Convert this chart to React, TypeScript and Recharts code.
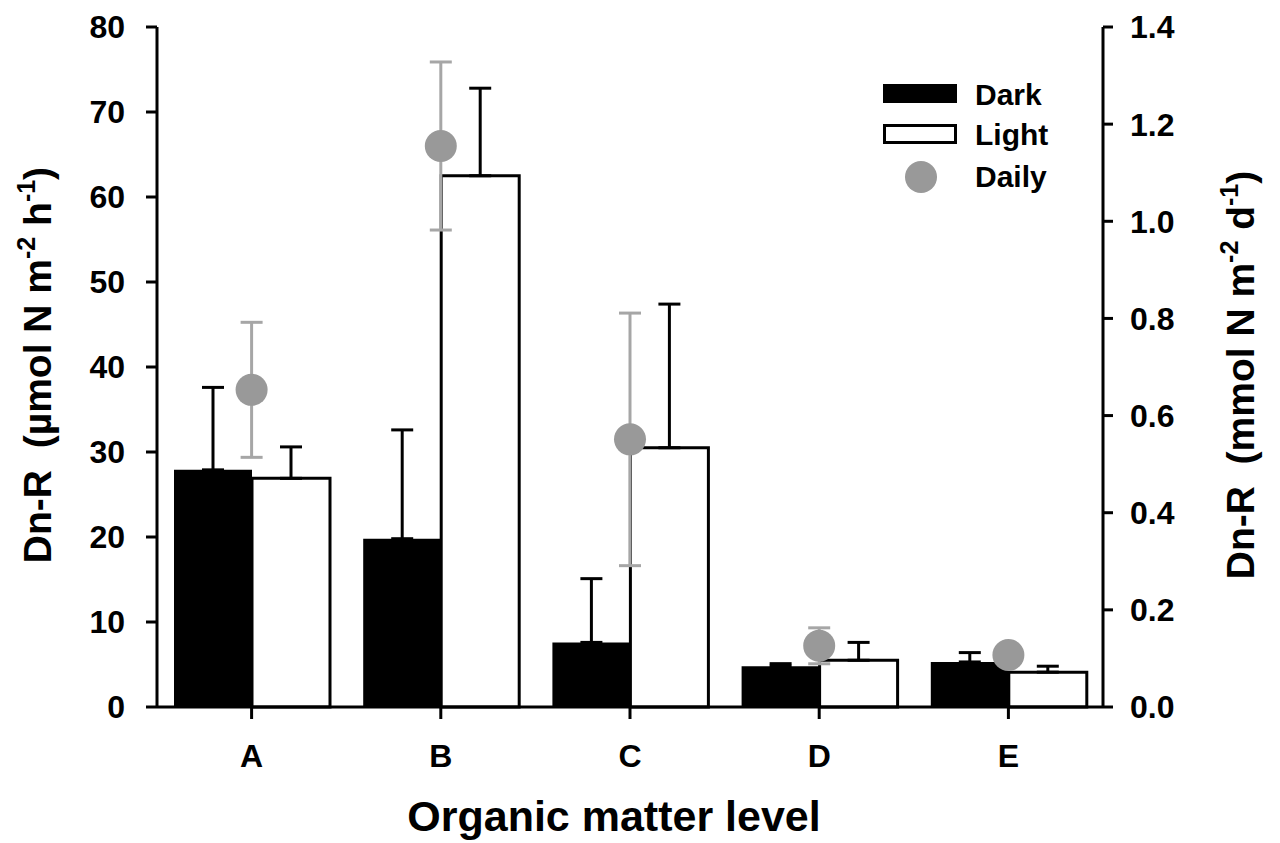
import React from "react";
import {
  ComposedChart,
  Bar,
  Scatter,
  ErrorBar,
  XAxis,
  YAxis,
  Legend,
} from "recharts";

const categories = ["A", "B", "C", "D", "E"];
const darkValues = [27.9, 19.8, 7.6, 4.8, 5.3];
const darkErrors = [9.7, 12.8, 7.5, 0.3, 1.1];
const lightValues = [26.9, 62.5, 30.5, 5.5, 4.1];
const lightErrors = [3.7, 10.3, 16.9, 2.1, 0.7];
const dailyValues = [0.653, 1.155, 0.551, 0.126, 0.107];
const dailyErrors = [0.139, 0.173, 0.26, 0.037, 0.01];

const leftTicks = [0, 10, 20, 30, 40, 50, 60, 70, 80];
const rightTicks = [0, 0.2, 0.4, 0.6, 0.8, 1.0, 1.2, 1.4];

const data = categories.map((c, i) => ({
  name: c,
  dark: darkValues[i],
  darkErr: [0, darkErrors[i]],
  light: lightValues[i],
  lightErr: [0, lightErrors[i]],
  daily: dailyValues[i],
  dailyErr: dailyErrors[i],
}));

const FONT = "'Liberation Sans', Arial, sans-serif";
const tickStyle = { fontSize: 32, fontWeight: 700, fill: "#000", fontFamily: FONT };

function XTitle(props: any) {
  const { viewBox } = props;
  const x = viewBox.x + viewBox.width / 2 - 16;
  const y = viewBox.y + viewBox.height - 12;
  return (
    <text x={x} y={y} textAnchor="middle" fontSize={43} fontWeight={700} fontFamily={FONT} fill="#000">
      Organic matter level
    </text>
  );
}

function LeftTitle(props: any) {
  const { viewBox } = props;
  const x = viewBox.x + 51;
  const y = viewBox.y + viewBox.height / 2 - 2;
  return (
    <text
      x={x}
      y={y}
      transform={`rotate(-90, ${x}, ${y})`}
      textAnchor="middle"
      fontSize={39}
      fontWeight={700}
      fontFamily={FONT}
      fill="#000"
    >
      Dn-R{"\u00a0 "}(µmol N m
      <tspan dy={-16} fontSize={25}>-2</tspan>
      <tspan dy={16}> h</tspan>
      <tspan dy={-16} fontSize={25}>-1</tspan>
      <tspan dy={16}>)</tspan>
    </text>
  );
}

function RightTitle(props: any) {
  const { viewBox } = props;
  const x = viewBox.x + 151;
  const y = viewBox.y + viewBox.height / 2 + 8;
  return (
    <text
      x={x}
      y={y}
      transform={`rotate(-90, ${x}, ${y})`}
      textAnchor="middle"
      fontSize={39}
      fontWeight={700}
      fontFamily={FONT}
      fill="#000"
    >
      Dn-R{"\u00a0 "}(mmol N m
      <tspan dy={-16} fontSize={25}>-2</tspan>
      <tspan dy={16}> d</tspan>
      <tspan dy={-16} fontSize={25}>-1</tspan>
      <tspan dy={16}>)</tspan>
    </text>
  );
}

function renderLegend() {
  const textProps = { fontSize: 30, fontWeight: 700, fontFamily: FONT, fill: "#000" };
  return (
    <svg width={200} height={130} style={{ overflow: "visible" }}>
      <rect x={13} y={14} width={74} height={19} fill="#000" />
      <text x={105} y={35} {...textProps}>Dark</text>
      <rect x={14.5} y={55.5} width={71} height={17} fill="#fff" stroke="#000" strokeWidth={3} />
      <text x={105} y={75} {...textProps}>Light</text>
      <circle cx={51} cy={107} r={16} fill="#999999" />
      <text x={105} y={117} {...textProps}>Daily</text>
    </svg>
  );
}

function DailyDot(props: any) {
  const { cx, cy } = props;
  return <circle cx={cx} cy={cy} r={16} fill="#999999" />;
}

export default function App() {
  return (
    <div style={{ position: "absolute", left: 0, top: 0, background: "#fff" }}>
      <ComposedChart
        width={1280}
        height={843}
        data={data}
        margin={{ top: 27, right: 0, left: 0, bottom: 0 }}
        barCategoryGap={17}
        barGap={0}
      >
        <XAxis
          dataKey="name"
          height={136}
          tick={tickStyle}
          tickSize={12}
          tickMargin={25}
          axisLine={{ stroke: "#000", strokeWidth: 3 }}
          tickLine={{ stroke: "#000", strokeWidth: 3 }}
          label={<XTitle />}
        />
        <YAxis
          yAxisId="left"
          orientation="left"
          width={157}
          domain={[0, 80]}
          ticks={leftTicks}
          interval={0}
          tick={tickStyle}
          tickSize={11}
          tickMargin={21}
          axisLine={{ stroke: "#000", strokeWidth: 3 }}
          tickLine={{ stroke: "#000", strokeWidth: 3 }}
          label={<LeftTitle />}
        />
        <YAxis
          yAxisId="right"
          orientation="right"
          width={177}
          domain={[0, 1.4]}
          ticks={rightTicks}
          interval={0}
          tickFormatter={(v: number) => v.toFixed(1)}
          tick={tickStyle}
          tickSize={10}
          tickMargin={17}
          axisLine={{ stroke: "#000", strokeWidth: 3 }}
          tickLine={{ stroke: "#000", strokeWidth: 3 }}
          label={<RightTitle />}
        />
        <Legend
          content={renderLegend}
          wrapperStyle={{
            position: "absolute",
            left: 870,
            top: 70,
            width: 0,
            height: 0,
            overflow: "visible",
          }}
        />
        <Bar yAxisId="left" dataKey="dark" name="Dark" fill="#000" isAnimationActive={false}>
          <ErrorBar dataKey="darkErr" direction="y" width={11} stroke="#000" strokeWidth={3} />
        </Bar>
        <Bar
          yAxisId="left"
          dataKey="light"
          name="Light"
          fill="#fff"
          stroke="#000"
          strokeWidth={3}
          isAnimationActive={false}
        >
          <ErrorBar dataKey="lightErr" direction="y" width={11} stroke="#000" strokeWidth={3} />
        </Bar>
        <Scatter
          yAxisId="right"
          dataKey="daily"
          name="Daily"
          fill="#999999"
          shape={<DailyDot />}
          isAnimationActive={false}
        >
          <ErrorBar dataKey="dailyErr" direction="y" width={11} stroke="#a6a6a6" strokeWidth={3} />
        </Scatter>
      </ComposedChart>
    </div>
  );
}
